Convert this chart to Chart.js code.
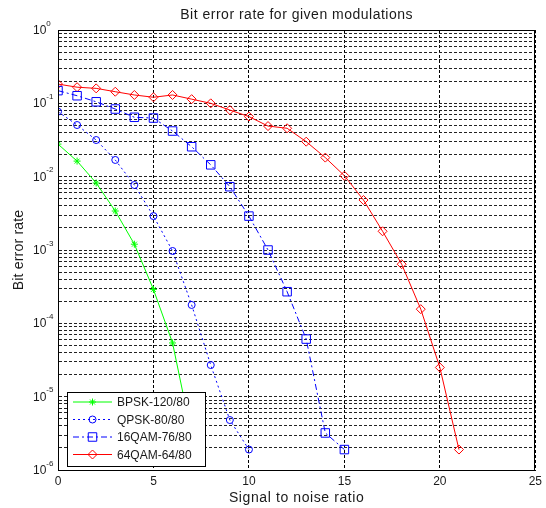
<!DOCTYPE html>
<html>
<head>
<meta charset="utf-8">
<script src="https://cdn.jsdelivr.net/npm/chart.js@4.4.1/dist/chart.umd.min.js"></script>
<style>
  body { margin: 0; background: #fff; }
  #wrap { width: 546px; height: 508px; }
</style>
</head>
<body>
<div id="wrap"><canvas id="ber" width="546" height="508"></canvas></div>
<script>
// ============================== DATA

const snrBpsk = [0, 1, 2, 3, 4, 5, 6, 7];
const berBpsk = [0.0278, 0.0163, 0.0082, 0.0034, 0.0012, 0.00029, 5.4e-5, 3e-6];

const snrQpsk = [0, 1, 2, 3, 4, 5, 6, 7, 8, 9, 10];
const berQpsk = [0.077, 0.0506, 0.0316, 0.0169, 0.0077, 0.0029, 0.00097, 0.000178, 2.7e-5, 4.8e-6, 1.9e-6];

const snr16qam = [0, 1, 2, 3, 4, 5, 6, 7, 8, 9, 10, 11, 12, 13, 14, 15];
const ber16qam = [0.149, 0.127, 0.105, 0.0836, 0.0645, 0.063, 0.0419, 0.0256, 0.0145, 0.0073, 0.0029, 0.001, 0.00027, 6.1e-5, 3.2e-6, 1.9e-6];

const snr64qam = [0, 1, 2, 3, 4, 5, 6, 7, 8, 9, 10, 11, 12, 13, 14, 15, 16, 17, 18, 19, 20, 21];
const ber64qam = [0.183, 0.166, 0.16, 0.144, 0.13, 0.121, 0.13, 0.114, 0.1, 0.081, 0.066, 0.049, 0.0457, 0.030, 0.0182, 0.0103, 0.0048, 0.0018, 0.00064, 0.000156, 2.5e-5, 1.9e-6];

const seriesNames = ['BPSK-120/80', 'QPSK-80/80', '16QAM-76/80', '64QAM-64/80'];
const xTicks = [0, 5, 10, 15, 20, 25];
const yDecades = [0, -1, -2, -3, -4, -5, -6];

// ============================== UTILS

const FONT = '"Liberation Sans", Arial, sans-serif';

function toPoints(xs, ys) {
  return xs.map((x, i) => ({ x: x, y: ys[i] }));
}

function logTicks() {
  const ticks = [];
  for (let p = -6; p < 0; p++) {
    for (let k = 1; k < 10; k++) ticks.push({ value: k * Math.pow(10, p) });
  }
  ticks.push({ value: 1 });
  return ticks;
}

function marker(ctx, style, r, x, y) {
  ctx.beginPath();
  if (style === 'circle') {
    ctx.arc(x, y, r, 0, Math.PI * 2);
  } else if (style === 'rect') {
    const s = r * Math.SQRT1_2;
    ctx.rect(x - s, y - s, 2 * s, 2 * s);
  } else if (style === 'rectRot') {
    ctx.moveTo(x, y - r); ctx.lineTo(x + r, y); ctx.lineTo(x, y + r); ctx.lineTo(x - r, y); ctx.closePath();
  } else if (style === 'star') {
    ctx.moveTo(x - r, y); ctx.lineTo(x + r, y);
    ctx.moveTo(x, y - r); ctx.lineTo(x, y + r);
    const d = r * Math.SQRT1_2;
    ctx.moveTo(x - d, y - d); ctx.lineTo(x + d, y + d);
    ctx.moveTo(x - d, y + d); ctx.lineTo(x + d, y - d);
  }
  ctx.stroke();
}

// frame, texts, y tick labels and legend
const decorations = {
  id: 'decorations',
  afterDraw(chart) {
    const { ctx, chartArea: { left, right, top, bottom } } = chart;
    const yScale = chart.scales.y;

    ctx.save();
    ctx.strokeStyle = '#000';
    ctx.lineWidth = 1;
    ctx.strokeRect(Math.round(left) + 0.5, Math.round(top) + 0.5,
      Math.round(right - left) - 1, Math.round(bottom - top));

    // y tick labels 10^n
    ctx.fillStyle = '#1a1a1a';
    ctx.textAlign = 'left';
    ctx.textBaseline = 'alphabetic';
    for (const p of yDecades) {
      const py = yScale.getPixelForValue(Math.pow(10, p));
      ctx.font = '12px ' + FONT;
      const bw = ctx.measureText('10').width;
      ctx.fillText('10', 33, py + 4);
      ctx.font = '8px ' + FONT;
      ctx.fillText(String(p), 33 + bw, py - 4.5);
    }

    // title and axis titles
    ctx.font = '14px ' + FONT;
    ctx.textAlign = 'center';
    ctx.letterSpacing = '0.5px';
    ctx.fillText('Bit error rate for given modulations', (left + right) / 2, 19);
    ctx.letterSpacing = '0.6px';
    ctx.fillText('Signal to noise ratio', (left + right) / 2, 502);
    ctx.letterSpacing = '0.2px';
    ctx.translate(23, (top + bottom) / 2);
    ctx.rotate(-Math.PI / 2);
    ctx.fillText('Bit error rate', 0, 0);
    ctx.restore();

    // legend
    ctx.save();
    const box = { x: 67, y: 392, w: 138, h: 74 };
    ctx.fillStyle = '#fff';
    ctx.fillRect(box.x, box.y, box.w, box.h);
    ctx.strokeStyle = '#000';
    ctx.lineWidth = 1;
    ctx.strokeRect(box.x + 0.5, box.y + 0.5, box.w, box.h);
    ctx.font = '12px ' + FONT;
    ctx.textAlign = 'left';
    ctx.textBaseline = 'middle';
    chart.data.datasets.forEach((ds, i) => {
      const yy = 402 + i * 17.5;
      ctx.strokeStyle = ds.borderColor;
      ctx.lineWidth = 1;
      ctx.setLineDash(ds.borderDash || []);
      ctx.beginPath();
      ctx.moveTo(73, yy);
      ctx.lineTo(112, yy);
      ctx.stroke();
      ctx.setLineDash([]);
      marker(ctx, ds.pointStyle, ds.pointRadius, 92.5, yy);
      ctx.fillStyle = '#1a1a1a';
      ctx.fillText(ds.label, 117, yy + 1);
    });
    ctx.restore();
  }
};

// ============================== CHART JS

const clear = 'rgba(0,0,0,0)';

new Chart(document.getElementById('ber'), {
  type: 'line',
  data: {
    datasets: [
      {
        label: seriesNames[0],
        data: toPoints(snrBpsk, berBpsk),
        borderColor: '#00ff00',
        pointBorderColor: '#00ff00',
        pointBackgroundColor: clear,
        pointStyle: 'star',
        pointRadius: 3.5,
      },
      {
        label: seriesNames[1],
        data: toPoints(snrQpsk, berQpsk),
        borderColor: '#0000ff',
        borderDash: [2, 3],
        pointBorderColor: '#0000ff',
        pointBackgroundColor: clear,
        pointStyle: 'circle',
        pointRadius: 3.5,
      },
      {
        label: seriesNames[2],
        data: toPoints(snr16qam, ber16qam),
        borderColor: '#0000ff',
        borderDash: [6, 3, 2, 3],
        pointBorderColor: '#0000ff',
        pointBackgroundColor: clear,
        pointStyle: 'rect',
        pointRadius: 6,
      },
      {
        label: seriesNames[3],
        data: toPoints(snr64qam, ber64qam),
        borderColor: '#ff0000',
        pointBorderColor: '#ff0000',
        pointBackgroundColor: clear,
        pointStyle: 'rectRot',
        pointRadius: 4.5,
      },
    ]
  },
  options: {
    responsive: false,
    animation: false,
    events: [],
    layout: { padding: { top: 30, right: 7, left: 0, bottom: 0 } },
    elements: {
      line: { borderWidth: 1, tension: 0, fill: false },
      point: { borderWidth: 1, hoverRadius: 4 },
    },
    plugins: {
      legend: { display: false },
      tooltip: { enabled: false },
      title: { display: false },
    },
    scales: {
      x: {
        type: 'linear',
        min: 0,
        max: 25,
        afterBuildTicks: (scale) => { scale.ticks = xTicks.map(v => ({ value: v })); },
        afterFit: (scale) => { scale.height = 38; },
        grid: { color: '#000', lineWidth: 1, drawTicks: false },
        border: { color: '#000', dash: [3, 2] },
        ticks: {
          padding: 4,
          color: '#1a1a1a',
          font: { family: FONT, size: 12 },
        },
      },
      y: {
        type: 'logarithmic',
        min: 1e-6,
        max: 1,
        afterBuildTicks: (scale) => { scale.ticks = logTicks(); },
        afterFit: (scale) => { scale.width = 58; },
        grid: { color: '#222', lineWidth: 1, drawTicks: false },
        border: { color: '#000', dash: [3, 2] },
        ticks: { display: false },
      },
    },
  },
  plugins: [decorations],
});
</script>
</body>
</html>
